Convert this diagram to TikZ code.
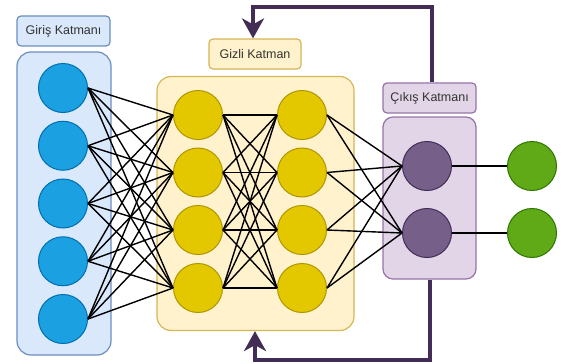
\documentclass[tikz,border=0pt]{standalone}
\usepackage{fontspec}
\setmainfont{Liberation Sans}
\usetikzlibrary{arrows.meta}
\definecolor{inFill}{HTML}{DAE8FC}
\definecolor{inLine}{HTML}{6C8EBF}
\definecolor{inNode}{HTML}{1BA1E2}
\definecolor{inNodeLine}{HTML}{006EAF}
\definecolor{hidFill}{HTML}{FFF2CC}
\definecolor{hidLine}{HTML}{D6B656}
\definecolor{hidNode}{HTML}{E3C800}
\definecolor{hidNodeLine}{HTML}{B09500}
\definecolor{outFill}{HTML}{E1D5E7}
\definecolor{outLine}{HTML}{9673A6}
\definecolor{outNode}{HTML}{76608A}
\definecolor{outNodeLine}{HTML}{432D57}
\definecolor{resNode}{HTML}{60A917}
\definecolor{resNodeLine}{HTML}{2D7600}
\definecolor{labelText}{HTML}{333333}
\begin{document}
\begin{tikzpicture}[x=1pt,y=-1pt,
  neuron/.style={circle,draw,line width=1pt,minimum size=49pt,inner sep=0pt},
  layerbox/.style={draw,line width=1.2pt,rounded corners=14pt},
  tag/.style={draw,line width=1.2pt,rounded corners=4pt,font=\fontsize{12.5}{14}\selectfont,
    text=labelText,inner sep=0pt,minimum height=30pt},
  link/.style={line width=1.4pt,black},
  loop/.style={line width=4pt,outNodeLine,-{Stealth[length=20pt,width=22pt,inset=6pt]}}]
\useasboundingbox (0,0) rectangle (565,364);

% layer frames
\node[layerbox,fill=inFill,draw=inLine,minimum width=94pt,minimum height=303pt] (inbox) at (64,203.5) {};
\node[layerbox,fill=hidFill,draw=hidLine,minimum width=197pt,minimum height=254pt] (hidbox) at (255.5,203.5) {};
\node[layerbox,rounded corners=10pt,fill=outFill,draw=outLine,minimum width=93pt,minimum height=162pt] (outbox) at (429.5,198) {};

% layer captions
\node[tag,fill=inFill,draw=inLine,minimum width=93pt] (intag) at (63.5,31) {Giriş Katmanı};
\node[tag,fill=hidFill,draw=hidLine,minimum width=92pt] (hidtag) at (255,54) {Gizli Katman};
\node[tag,fill=outFill,draw=outLine,minimum width=93pt] (outtag) at (429.5,98) {Çıkış Katmanı};

% input neurons
\foreach \i/\y in {1/88,2/145.75,3/203.5,4/261.25,5/319}
  \node[neuron,fill=inNode,draw=inNodeLine] (i\i) at (63,\y) {};
% hidden neurons, two columns
\foreach \i/\y in {1/115,2/172.5,3/230,4/288}{
  \node[neuron,fill=hidNode,draw=hidNodeLine] (a\i) at (198,\y) {};
  \node[neuron,fill=hidNode,draw=hidNodeLine] (b\i) at (302,\y) {};
}
% output neurons and results
\foreach \i/\y in {1/166,2/233}{
  \node[neuron,fill=outNode,draw=outNodeLine] (o\i) at (427,\y) {};
  \node[neuron,fill=resNode,draw=resNodeLine] (r\i) at (532,\y) {};
}

% full connections
\foreach \i in {1,...,5}
  \foreach \j in {1,...,4}
    \draw[link] (i\i.east) -- (a\j.west);
\foreach \i in {1,...,4}
  \foreach \j in {1,...,4}
    \draw[link] (a\i.east) -- (b\j.west);
\foreach \i in {1,...,4}
  \foreach \j in {1,2}
    \draw[link] (b\i.east) -- (o\j.west);
\foreach \i in {1,2}
  \draw[link] (o\i.east) -- (r\i.west);

% feedback loops
\draw[loop] (outtag.north -| 432,0) |- (253,7) -- (hidtag.north -| 253,0);
\draw[loop] (outbox.south -| 430,0) |- (255,360) -- (hidbox.south -| 255,0);
\end{tikzpicture}
\end{document}
